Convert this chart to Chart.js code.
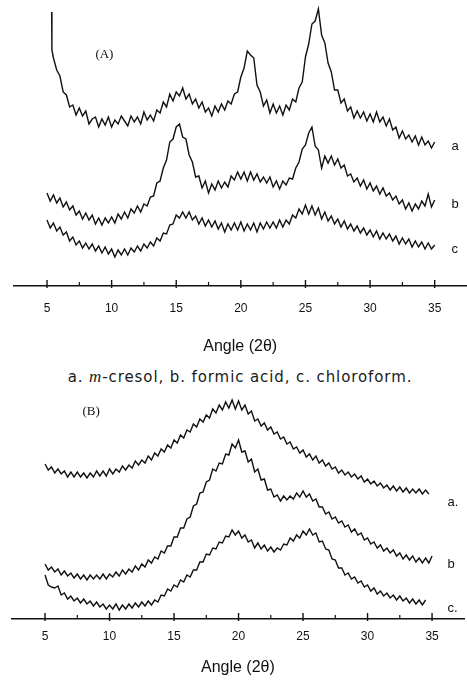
<!DOCTYPE html>
<html>
<head>
<meta charset="utf-8">
<script src="https://cdn.jsdelivr.net/npm/chart.js@4"></script>
<style>
    body { margin: 0; background: #fff; }
    canvas { display: block; }
    #caption {
        height: 30px; line-height: 34px; margin-left: 13px; width: 454px; overflow: visible;
        text-align: center; font-family: 'DejaVu Sans', sans-serif; font-size: 15px; letter-spacing: 0.9px; color: #1a1a1a;
    }
    #caption i { font-family: 'Liberation Serif', serif; font-size: 17px; }
</style>
</head>
<body>
<canvas id="panelA" width="467" height="360"></canvas>
<div id="caption">a. <i>m</i>-cresol, b. formic acid, c. chloroform.</div>
<canvas id="panelB" width="467" height="291"></canvas>
<script>
// angle (2θ) grid, degrees
const angles = [
    5, 5.25, 5.5, 5.75, 6, 6.25, 6.5, 6.75, 7, 7.25, 7.5, 7.75, 8, 8.25, 8.5, 8.75, 9, 9.25, 9.5, 9.75,
    10, 10.25, 10.5, 10.75, 11, 11.25, 11.5, 11.75, 12, 12.25, 12.5, 12.75, 13, 13.25, 13.5, 13.75, 14, 14.25, 14.5, 14.75,
    15, 15.25, 15.5, 15.75, 16, 16.25, 16.5, 16.75, 17, 17.25, 17.5, 17.75, 18, 18.25, 18.5, 18.75, 19, 19.25, 19.5, 19.75,
    20, 20.25, 20.5, 20.75, 21, 21.25, 21.5, 21.75, 22, 22.25, 22.5, 22.75, 23, 23.25, 23.5, 23.75, 24, 24.25, 24.5, 24.75,
    25, 25.25, 25.5, 25.75, 26, 26.25, 26.5, 26.75, 27, 27.25, 27.5, 27.75, 28, 28.25, 28.5, 28.75, 29, 29.25, 29.5, 29.75,
    30, 30.25, 30.5, 30.75, 31, 31.25, 31.5, 31.75, 32, 32.25, 32.5, 32.75, 33, 33.25, 33.5, 33.75, 34, 34.25, 34.5, 34.75, 35];

const majorTicks = [5, 10, 15, 20, 25, 30, 35];
const minorTicks = [7.5, 12.5, 17.5, 22.5, 27.5, 32.5];

// (A) intensities, arbitrary units
const aLeadAngles = [5.36, 5.38];
const aLeadValues = [274, 236];
const aCresol = [null, null,
    228, 216, 210, 194, 191, 179, 181, 171, 178, 170, 175, 162, 167, 169, 159, 167, 161, 169, 159, 166,
    162, 170, 165, 160, 170, 164, 169, 162, 174, 166, 171, 165, 176, 173, 184, 179, 192, 185, 194, 190,
    198, 187, 192, 182, 187, 178, 184, 174, 178, 170, 180, 174, 182, 176, 185, 182, 192, 194, 209, 218,
    235, 231, 228, 201, 194, 180, 186, 173, 182, 173, 180, 171, 181, 176, 187, 184, 198, 204, 229, 242,
    262, 265, 277, 251, 243, 223, 214, 196, 196, 183, 187, 175, 179, 168, 175, 168, 174, 165, 172, 164,
    174, 164, 169, 160, 167, 156, 159, 148, 155, 147, 151, 144, 150, 141, 149, 141, 145, 138, 144];
const aFormic = [
    93, 85, 91, 83, 88, 79, 84, 76, 80, 71, 75, 67, 73, 66, 71, 62, 68, 61, 68, 63,
    69, 63, 72, 67, 74, 68, 77, 73, 80, 74, 82, 80, 89, 90, 103, 105, 118, 126, 144, 147,
    159, 162, 149, 147, 131, 124, 109, 110, 98, 105, 93, 102, 96, 105, 98, 104, 99, 110, 106, 114,
    107, 114, 105, 114, 106, 112, 104, 109, 103, 109, 99, 105, 97, 105, 101, 108, 107, 118, 124, 137,
    141, 153, 159, 140, 136, 118, 130, 123, 130, 121, 127, 118, 121, 110, 112, 104, 108, 100, 106, 97,
    103, 95, 100, 92, 98, 90, 93, 86, 90, 82, 86, 77, 83, 75, 82, 77, 85, 80, 92, 79, 86];
const aChloro = [
    66, 58, 63, 55, 59, 51, 54, 45, 49, 41, 45, 38, 43, 37, 42, 35, 40, 33, 39, 32,
    37, 29, 36, 31, 37, 31, 38, 34, 40, 35, 42, 38, 44, 40, 48, 45, 53, 52, 61, 62,
    71, 68, 74, 68, 74, 66, 70, 62, 68, 60, 66, 59, 65, 57, 63, 54, 62, 56, 63, 56,
    64, 55, 62, 56, 63, 54, 63, 57, 64, 58, 64, 58, 66, 59, 66, 62, 71, 68, 77, 72,
    81, 72, 80, 71, 78, 67, 74, 65, 70, 62, 67, 59, 65, 57, 62, 55, 60, 53, 58, 51,
    56, 49, 55, 47, 53, 47, 52, 45, 50, 42, 48, 42, 47, 39, 45, 39, 44, 37, 43, 37, 41];

// (B) intensities, arbitrary units
const bCresol = [
    155, 149, 152, 146, 150, 145, 148, 142, 147, 142, 147, 142, 146, 141, 146, 142, 148, 143, 148, 143,
    150, 145, 150, 147, 153, 149, 154, 151, 158, 154, 159, 156, 163, 159, 166, 163, 170, 167, 174, 171,
    179, 176, 184, 181, 189, 187, 195, 192, 200, 197, 204, 201, 210, 206, 214, 209, 217, 211, 219, 210,
    218, 209, 214, 205, 208, 198, 200, 193, 196, 189, 192, 185, 187, 180, 182, 175, 177, 170, 172, 166,
    169, 162, 165, 159, 163, 156, 159, 153, 156, 150, 152, 146, 149, 144, 147, 142, 145, 140, 143, 137,
    140, 135, 138, 133, 136, 131, 134, 129, 133, 128, 132, 127, 131, 126, 130, 126, 130, 125, 129, 125, null];
const bFormic = [
    55, 49, 52, 47, 50, 44, 48, 43, 46, 41, 45, 40, 44, 39, 44, 40, 44, 40, 45, 40,
    45, 42, 47, 43, 49, 45, 50, 47, 53, 49, 55, 52, 59, 56, 62, 60, 68, 66, 73, 73,
    82, 82, 91, 91, 100, 102, 113, 115, 126, 127, 137, 139, 150, 148, 156, 155, 165, 164, 175, 171,
    179, 167, 168, 157, 160, 147, 150, 139, 140, 129, 130, 122, 124, 118, 123, 119, 123, 120, 126, 122,
    128, 122, 125, 118, 120, 112, 112, 105, 107, 100, 102, 96, 98, 92, 94, 87, 90, 84, 86, 79,
    81, 75, 77, 71, 74, 68, 71, 66, 69, 63, 66, 60, 64, 59, 63, 57, 61, 56, 61, 56, 63];
const bChloro = [
    44, 34, 32, 31, 33, 24, 26, 20, 23, 18, 21, 16, 20, 15, 18, 13, 17, 12, 15, 10,
    14, 10, 15, 9, 14, 10, 15, 11, 16, 12, 17, 13, 18, 14, 19, 17, 24, 23, 30, 28,
    34, 32, 39, 37, 44, 42, 49, 49, 57, 57, 65, 64, 71, 70, 77, 76, 83, 82, 89, 84,
    88, 81, 84, 77, 79, 71, 76, 70, 74, 68, 72, 67, 71, 69, 75, 74, 81, 78, 84, 81,
    88, 84, 90, 84, 86, 77, 78, 70, 69, 60, 59, 51, 51, 44, 46, 40, 42, 36, 38, 32,
    34, 28, 31, 25, 28, 23, 26, 21, 24, 19, 23, 18, 21, 16, 20, 15, 19, 14, 19, null, null];

const toPoints = (xs, ys) => xs.map((x, i) => ({ x: x, y: ys[i] })).filter(p => p.y !== null);

// tick marks standing up from the axis, curve tags at the right, panel letter
const xrdDecor = {
    id: 'xrdDecor',
    afterDraw(chart, args, opts) {
        const ctx = chart.ctx;
        const xs = chart.scales.x;
        const axisY = chart.chartArea.bottom;
        ctx.save();
        ctx.fillStyle = '#111';
        majorTicks.forEach(v => ctx.fillRect(xs.getPixelForValue(v) - 0.7, axisY - 6, 1.4, 8));
        minorTicks.forEach(v => ctx.fillRect(xs.getPixelForValue(v) - 0.6, axisY - 4, 1.2, 4));

        ctx.textBaseline = 'middle';
        ctx.font = "13px 'Liberation Sans'";
        chart.data.datasets.forEach((ds, i) => {
            const pts = chart.getDatasetMeta(i).data;
            const last = pts[pts.length - 1];
            ctx.fillText(ds.label, xs.getPixelForValue(opts.at), last.y + opts.dy);
        });
        ctx.font = "13px 'Liberation Serif'";
        ctx.fillText(opts.panel, chart.chartArea.left + opts.panelX, chart.chartArea.top + opts.panelY);
        ctx.restore();
    }
};

function panel(id, datasets, yMax, pad, axisHeight, labelPad, tags) {
    return new Chart(document.getElementById(id), {
        type: 'line',
        data: {
            datasets: datasets.map(d => ({
                label: d.label,
                data: d.data,
                borderColor: '#111',
                borderWidth: 1.4,
                pointRadius: 0,
                tension: 0
            }))
        },
        options: {
            responsive: false,
            animation: false,
            devicePixelRatio: 1,
            layout: { autoPadding: false, padding: { left: pad[0], right: pad[1], top: 0, bottom: 0 } },
            plugins: { legend: { display: false }, tooltip: { enabled: false }, xrdDecor: tags },
            scales: {
                x: {
                    type: 'linear',
                    min: 2.4,
                    max: 37.5,
                    afterBuildTicks: s => { s.ticks = majorTicks.map(v => ({ value: v })); },
                    afterFit: s => { s.height = axisHeight; },
                    border: { color: '#111', width: 1.6 },
                    grid: { drawOnChartArea: false, drawTicks: false },
                    ticks: {
                        autoSkip: false,
                        maxRotation: 0,
                        padding: labelPad,
                        color: '#111',
                        font: { family: 'Liberation Sans', size: 12 }
                    },
                    title: {
                        display: true,
                        text: 'Angle (2θ)',
                        color: '#111',
                        font: { family: 'Liberation Sans', size: 16 },
                        padding: { top: 0, bottom: 4 }
                    }
                },
                y: { display: false, min: 0, max: yMax }
            }
        },
        plugins: [xrdDecor]
    });
}

panel('panelA', [
    { label: 'a', data: toPoints(aLeadAngles, aLeadValues).concat(toPoints(angles, aCresol)) },
    { label: 'b', data: toPoints(angles, aFormic) },
    { label: 'c', data: toPoints(angles, aChloro) }
], 286, [13.4, 0], 74, 15, { at: 36.3, dy: 4, panel: '(A)', panelX: 82, panelY: 55 });

panel('panelB', [
    { label: 'a.', data: toPoints(angles, bCresol) },
    { label: 'b', data: toPoints(angles, bFormic) },
    { label: 'c.', data: toPoints(angles, bChloro) }
], 229, [11.5, 2.7], 62, 10, { at: 36.2, dy: 8, panel: '(B)', panelX: 71, panelY: 22 });
</script>
</body>
</html>
